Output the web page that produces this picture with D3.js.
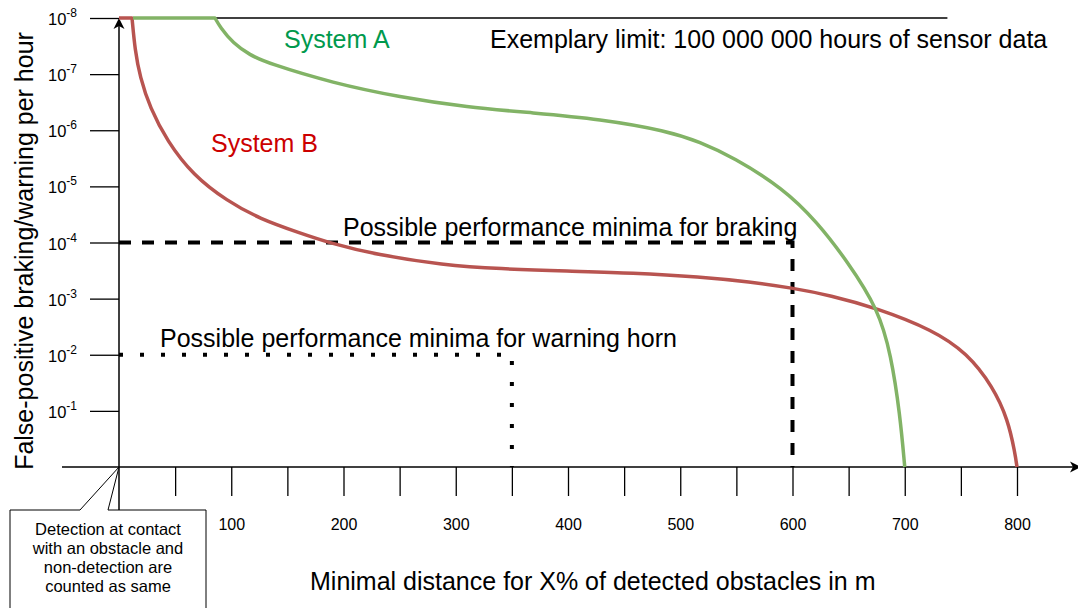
<!DOCTYPE html>
<html>
<head>
<meta charset="utf-8">
<title>False-positive rate vs detection distance</title>
<style>
  body { margin: 0; background: #fff; }
  svg { display: block; font-family: "Liberation Sans", Arial, sans-serif; }
  .tick line { stroke: #000; stroke-width: 1.3; }
</style>
</head>
<body>
<svg id="chart" width="1078" height="608"></svg>
<script src="https://d3js.org/d3.v7.min.js"></script>
<script>
// values: [distance in m, exponent of the rate per hour]
var systemB = [
  [0, -8], [11.6, -8], [14.25, -7.43], [18.7, -6.95], [27.6, -6.40], [42.8, -5.81],
  [65.9, -5.20], [96.2, -4.74], [125.6, -4.42], [161.2, -4.17], [188, -3.99],
  [229.8, -3.78], [288.6, -3.60], [339.4, -3.53], [399.1, -3.49], [457.9, -3.46],
  [517.6, -3.39], [562.1, -3.30], [599.6, -3.19], [633.4, -3.06], [675.3, -2.83],
  [725.2, -2.44], [755.5, -2.03], [778.6, -1.43], [792, -0.84], [798.2, -0.25], [800, 0]
];
var systemA = [
  [12.5, -8], [85.5, -8], [90, -7.84], [101.6, -7.55], [116.7, -7.34], [131.8, -7.20],
  [190.6, -6.84], [250.3, -6.59], [310, -6.41], [368.8, -6.31], [428.5, -6.20],
  [488.2, -5.99], [517.6, -5.79], [547, -5.52], [591.5, -4.97], [621.8, -4.37],
  [649.4, -3.65], [676.2, -2.82], [687.8, -2.00], [695.8, -0.93], [700, 0]
];
// performance minima: [distance, exponent]
var brakingMinimum = [600, -4];
var hornMinimum = [350, -2];
var limitExponent = -8;
var limitEnd = 738;

var xTicks = d3.range(50, 801, 50);
var yTicks = [-1, -2, -3, -4, -5, -6, -7, -8];
var calloutLines = ["Detection at contact", "with an obstacle and", "non-detection are", "counted as same"];

var svg = d3.select("#chart");

var x = d3.scaleLinear().domain([0, 800]).range([119, 1017]);
var y = d3.scaleLinear().domain([0, -8]).range([467, 18]);

// x axis ticks
var gx = svg.append("g")
  .attr("transform", "translate(0," + y(0) + ")")
  .call(d3.axisBottom(x).tickValues(xTicks).tickSize(29).tickPadding(23)
    .tickFormat(function(d) { return d % 100 === 0 ? d : ""; }));
gx.select(".domain").remove();
gx.selectAll("text").attr("font-size", 16).attr("font-family", null).attr("fill", "#000");

// y axis ticks
var gy = svg.append("g")
  .attr("transform", "translate(" + x(0) + ",0)")
  .call(d3.axisLeft(y).tickValues(yTicks).tickSize(29).tickPadding(13));
gy.select(".domain").remove();
gy.selectAll("text")
  .attr("font-size", 16.5).attr("font-family", null).attr("fill", "#000")
  .attr("dy", "0.4em")
  .each(function(d) {
    var t = d3.select(this);
    t.text(null);
    t.append("tspan").text("10");
    t.append("tspan").attr("dy", -8).attr("font-size", 12).text(d);
  });

// axis lines with arrows
svg.append("line").attr("x1", 62).attr("x2", 1076).attr("y1", y(0)).attr("y2", y(0))
  .attr("stroke", "#000").attr("stroke-width", 1.5);
svg.append("path").attr("d", "M1081," + y(0) + "l-11,-5.5l3,5.5l-3,5.5z").attr("fill", "#000");
svg.append("line").attr("x1", x(0)).attr("x2", x(0)).attr("y1", 510).attr("y2", 24)
  .attr("stroke", "#000").attr("stroke-width", 1.5);
svg.append("path").attr("d", "M" + x(0) + ",18l-5.5,11l5.5,-3l5.5,3z").attr("fill", "#000");

// exemplary limit line
svg.append("line").attr("x1", x(0)).attr("x2", x(limitEnd))
  .attr("y1", y(limitExponent)).attr("y2", y(limitExponent))
  .attr("stroke", "#000").attr("stroke-width", 1.5);

// minima
function corner(p) {
  return "M" + x(0) + "," + y(p[1]) + "H" + x(p[0]) + "V" + y(0);
}
svg.append("path").attr("d", corner(brakingMinimum))
  .attr("fill", "none").attr("stroke", "#000").attr("stroke-width", 4)
  .attr("stroke-dasharray", "12,11");
svg.append("path").attr("d", corner(hornMinimum))
  .attr("fill", "none").attr("stroke", "#000").attr("stroke-width", 4)
  .attr("stroke-dasharray", "4,17");

// curves: flat part at the limit is straight, the rest smoothed
var straight = d3.line()
  .x(function(d) { return x(d[0]); })
  .y(function(d) { return y(d[1]); });
var smooth = d3.line()
  .x(function(d) { return x(d[0]); })
  .y(function(d) { return y(d[1]); })
  .curve(d3.curveBasis);

function drawSystem(data, color) {
  var i = 0;
  while (i + 1 < data.length && data[i + 1][1] === limitExponent) i++;
  svg.append("path").attr("d", straight(data.slice(0, i + 1)) + smooth(data.slice(i)).replace(/^M/, "L"))
    .attr("fill", "none").attr("stroke", color).attr("stroke-width", 3.5)
    .attr("stroke-linejoin", "round");
}
drawSystem(systemB, "#b85450");
drawSystem(systemA, "#82b366");

// labels
function label(txt, px, py, color) {
  svg.append("text").attr("x", px).attr("y", py).attr("font-size", 25)
    .attr("fill", color || "#000").text(txt);
}
label("System A", 284, 48, "#00994d");
label("System B", 211, 152, "#cc0000");
label("Exemplary limit: 100 000 000 hours of sensor data", 490, 48);
label("Possible performance minima for braking", 343, 236);
label("Possible performance minima for warning horn", 160, 347);
label("Minimal distance for X% of detected obstacles in m", 310, 590);

svg.append("text")
  .attr("transform", "translate(33,251) rotate(-90)")
  .attr("text-anchor", "middle").attr("font-size", 25)
  .text("False-positive braking/warning per hour");

// callout
svg.append("path")
  .attr("d", "M10,510H80L" + x(0) + "," + y(0) + "L108,510H206V612H10Z")
  .attr("fill", "#fff").attr("stroke", "#000").attr("stroke-width", 1);
svg.append("text").attr("text-anchor", "middle").attr("font-size", 16.5)
  .selectAll("tspan").data(calloutLines).enter().append("tspan")
  .attr("x", 108).attr("y", function(d, i) { return 535 + i * 19; })
  .text(function(d) { return d; });
</script>
</body>
</html>
